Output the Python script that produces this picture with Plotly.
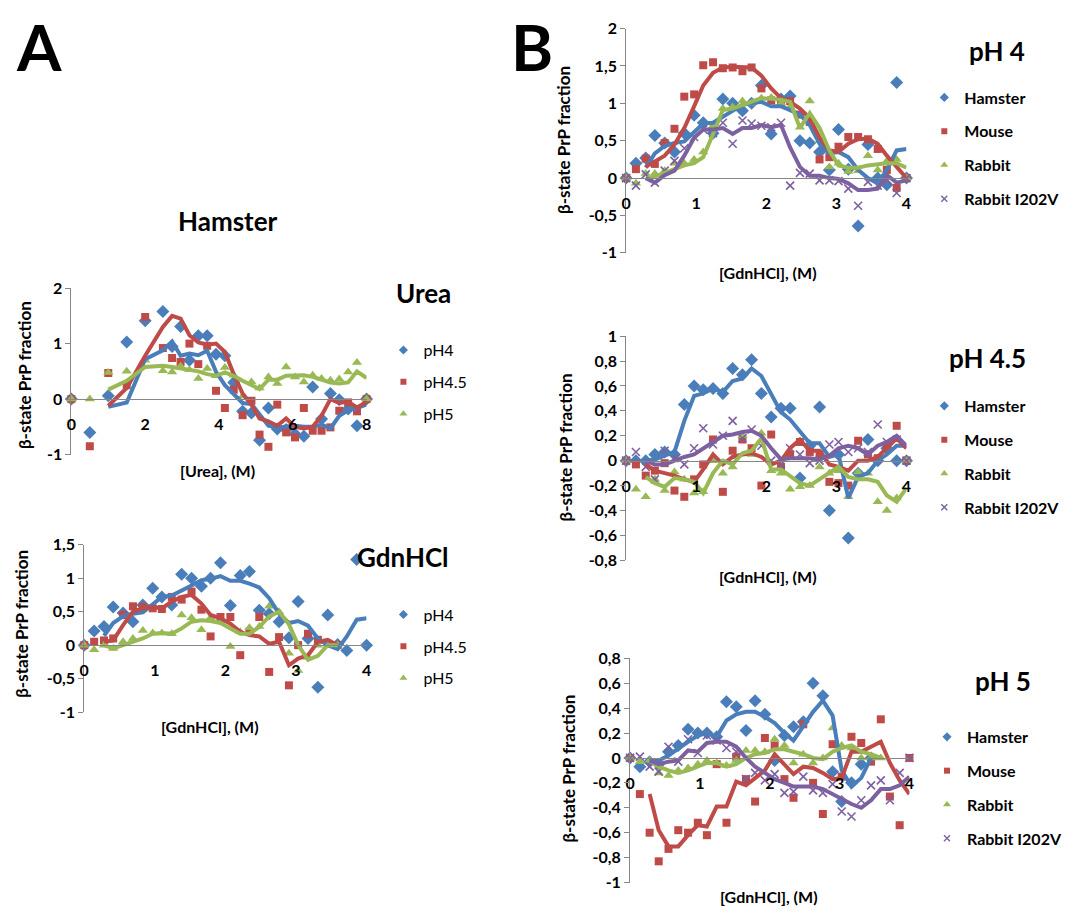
import plotly.graph_objects as go

W, H = 1067, 916

# ---------------- data ----------------
X_UREA = [0, 0.5, 1.0, 1.5, 2.0, 2.48, 2.73, 2.96, 3.2, 3.44, 3.68, 3.92, 4.16, 4.4, 4.64,
          4.88, 5.1, 5.34, 5.58, 5.82, 6.06, 6.3, 6.54, 6.78, 7.02, 7.26, 7.5, 7.74, 8.0]
U_PH4 = [0, -0.60, 0.06, 1.03, 1.41, 1.58, 0.95, 1.31, 0.70, 1.14, 1.14, 0.81, 0.78, 0.30, -0.22,
         -0.25, -0.74, -0.16, -0.54, -0.55, -0.63, -0.67, 0.22, -0.36, 0.10, -0.01, -0.18, -0.48, 0.00]
U_PH4_LINE = [None, None, -0.14, -0.06, 0.72, 0.88, 1.04, 0.78, 0.82, 0.79, 0.87, 0.49, 0.25, 0.10, -0.07,
              -0.09, -0.28, -0.48, -0.51, -0.50, -0.48, -0.50, -0.50, -0.46, -0.53, -0.30, -0.20, -0.16, -0.10]
U_PH45 = [0, -0.85, 0.47, 0.25, 1.48, 0.92, 0.74, 0.67, 1.00, 0.63, 0.96, 0.15, -0.16, 0.17, -0.29,
          -0.03, -0.64, -0.86, -0.10, -0.60, -0.69, -0.16, -0.57, -0.57, -0.51, -0.21, -0.06, -0.22, 0.00]
U_PH45_LINE = [None, None, -0.12, 0.20, 0.78, 1.30, 1.50, 1.45, 1.15, 1.02, 0.98, 1.00, 0.85, 0.45, 0.10,
               -0.10, -0.35, -0.40, -0.48, -0.35, -0.50, -0.53, -0.50, -0.30, 0.00, -0.07, -0.05, -0.15, -0.05]
U_PH5 = [0, 0.00, 0.48, 0.50, 0.70, 0.51, 0.49, 0.59, 0.53, 0.37, 0.55, 0.42, 0.57, 0.43, 0.05,
         0.31, 0.20, 0.40, 0.28, 0.58, 0.40, 0.31, 0.43, 0.37, 0.34, 0.36, 0.49, 0.66, 0.00]
U_PH5_LINE = [None, None, 0.17, 0.33, 0.58, 0.60, 0.58, 0.55, 0.53, 0.50, 0.45, 0.42, 0.48, 0.42, 0.33,
              0.25, 0.18, 0.35, 0.35, 0.42, 0.43, 0.43, 0.40, 0.35, 0.30, 0.28, 0.30, 0.50, 0.38]

X_GDN = [0, 0.14, 0.28, 0.41, 0.55, 0.69, 0.83, 0.97, 1.10, 1.24, 1.38, 1.52, 1.66, 1.79, 1.93,
         2.07, 2.21, 2.34, 2.48, 2.62, 2.76, 2.90, 3.03, 3.17, 3.31, 3.45, 3.59, 3.72, 3.86, 4.00]

G_PH4 = [0, 0.21, 0.28, 0.57, 0.48, 0.35, 0.60, 0.85, 0.72, 0.60, 1.06, 1.00, 0.88, 1.00, 1.23,
         0.59, 1.04, 1.10, 0.52, 0.47, 0.35, 0.11, 0.65, 0.10, -0.63, 0.45, 0.01, -0.08, 1.28, 0.00]
G_PH4_LINE = [None, None, 0.14, 0.33, 0.43, 0.47, 0.49, 0.60, 0.72, 0.74, 0.81, 0.89, 0.97, 0.99, 1.03,
              0.96, 0.96, 0.92, 0.86, 0.70, 0.47, 0.33, 0.36, 0.29, 0.10, 0.00, -0.06, 0.13, 0.38, 0.40]
G_PH45 = [0, 0.05, 0.07, 0.10, 0.45, 0.58, 0.57, 0.55, 0.54, 0.72, 0.68, 0.80, 0.53, 0.13, 0.42,
          0.42, -0.15, 0.20, 0.42, -0.40, 0.12, -0.60, 0.00, 0.17, 0.08, 0.02, 0.00, None, None, None]
G_PH45_LINE = [None, None, 0.05, 0.07, 0.30, 0.50, 0.55, 0.57, 0.55, 0.65, 0.72, 0.75, 0.62, 0.45, 0.40,
               0.32, 0.20, 0.15, 0.13, 0.02, 0.05, -0.30, -0.20, -0.15, 0.05, 0.08, 0.00, None, None, None]
G_PH5 = [0, -0.07, 0.00, -0.05, 0.05, 0.10, 0.22, 0.18, 0.18, 0.17, 0.45, 0.41, 0.23, 0.41, 0.35,
         -0.02, 0.20, 0.26, 0.28, 0.58, 0.50, -0.12, -0.38, -0.18, 0.00, 0.00, 0.00, None, None, None]
G_PH5_LINE = [None, None, 0.00, -0.05, 0.00, 0.05, 0.10, 0.17, 0.18, 0.17, 0.25, 0.35, 0.37, 0.36, 0.33,
              0.25, 0.17, 0.17, 0.27, 0.43, 0.50, 0.31, 0.00, -0.22, -0.16, 0.00, 0.00, None, None, None]

B4_HAMSTER = [0, 0.20, 0.27, 0.57, 0.47, 0.35, 0.60, 0.84, 0.74, 0.60, 1.06, 1.00, 0.90, 1.00, 1.24,
              0.59, 1.06, 1.10, 0.50, 0.47, 0.35, 0.11, 0.65, 0.12, -0.64, 0.45, 0.00, -0.09, 1.28, 0.00]
B4_HAMSTER_LINE = [None, None, 0.14, 0.33, 0.43, 0.47, 0.49, 0.61, 0.73, 0.74, 0.82, 0.90, 0.98, 1.00, 1.02,
                   0.96, 0.96, 0.91, 0.85, 0.71, 0.46, 0.33, 0.35, 0.28, 0.11, 0.00, -0.07, 0.11, 0.37, 0.39]
B4_MOUSE = [0, 0.12, 0.26, 0.19, 0.47, 0.66, 1.09, 1.12, 1.51, 1.55, 1.47, 1.48, 1.43, 1.48, 1.20,
            1.04, 1.00, 1.03, 0.85, 0.75, 0.25, 0.28, 0.42, 0.55, 0.55, 0.52, 0.39, 0.11, -0.13, 0.00]
B4_MOUSE_LINE = [None, None, 0.15, 0.22, 0.30, 0.45, 0.67, 0.96, 1.24, 1.41, 1.48, 1.49, 1.48, 1.48, 1.37,
                 1.20, 1.07, 1.02, 0.93, 0.80, 0.54, 0.37, 0.35, 0.46, 0.52, 0.53, 0.46, 0.30, 0.15, 0.00]
B4_RABBIT = [0, -0.07, 0.06, 0.06, 0.10, 0.20, 0.20, 0.25, 0.35, 0.70, 0.93, 0.95, 1.03, 1.00, 1.07,
             1.08, 1.00, 0.95, 0.68, 1.03, 0.50, 0.15, 0.20, 0.09, 0.10, 0.30, 0.11, 0.23, 0.25, 0.00]
B4_RABBIT_LINE = [None, None, 0.00, 0.02, 0.07, 0.12, 0.17, 0.20, 0.28, 0.59, 0.91, 0.93, 0.98, 1.02, 1.07,
                  1.06, 1.05, 1.02, 0.67, 0.87, 0.67, 0.37, 0.17, 0.14, 0.14, 0.17, 0.19, 0.20, 0.20, 0.14]
B4_I202V = [0, -0.10, 0.05, -0.06, 0.10, 0.23, 0.40, 0.55, 0.65, 0.60, 0.74, 0.46, 0.77, 0.73, 0.70,
            0.68, 0.74, -0.10, 0.07, 0.06, -0.03, -0.03, -0.04, -0.14, -0.37, -0.05, -0.10, -0.03, -0.20, 0.00]
B4_I202V_LINE = [None, None, 0.00, -0.06, 0.04, 0.10, 0.30, 0.54, 0.65, 0.65, 0.67, 0.59, 0.67, 0.67, 0.71,
                 0.68, 0.71, 0.41, 0.15, 0.03, 0.03, 0.00, -0.01, -0.07, -0.16, -0.16, -0.14, 0.04, -0.06, -0.03]

B45_HAMSTER = [0, 0.00, 0.00, 0.05, 0.07, 0.05, 0.45, 0.60, 0.57, 0.58, 0.54, 0.74, 0.69, 0.81, 0.54,
               0.35, 0.42, 0.42, -0.14, 0.12, 0.43, -0.40, 0.05, -0.62, -0.10, 0.17, 0.00, 0.10, 0.00, 0.00]
B45_HAMSTER_LINE = [None, None, 0.00, 0.01, 0.04, 0.07, 0.32, 0.52, 0.54, 0.58, 0.55, 0.64, 0.66, 0.74, 0.68,
                    0.54, 0.39, 0.33, 0.24, 0.14, 0.14, 0.03, 0.05, -0.30, -0.13, -0.10, 0.00, 0.05, 0.12, 0.12]
B45_MOUSE = [0, -0.03, -0.12, -0.08, -0.02, -0.24, -0.29, -0.15, -0.03, 0.17, -0.25, 0.08, 0.17, 0.10, -0.20,
             0.21, -0.05, 0.05, 0.15, 0.07, 0.05, -0.17, -0.18, -0.20, 0.16, 0.05, 0.02, 0.12, 0.28, 0.00]
B45_MOUSE_LINE = [None, None, -0.03, -0.08, -0.10, -0.12, -0.15, -0.17, -0.07, 0.05, -0.03, 0.03, 0.05, 0.06, 0.03,
                  -0.03, 0.00, 0.10, 0.17, 0.08, 0.08, -0.03, -0.05, -0.08, 0.00, 0.00, 0.03, 0.10, 0.18, 0.10]
B45_RABBIT = [0, -0.23, -0.29, -0.15, -0.24, -0.09, -0.15, -0.26, -0.25, 0.00, -0.10, -0.05, 0.20, 0.05, 0.22,
              -0.08, -0.10, -0.23, -0.21, -0.20, -0.05, -0.10, -0.08, -0.29, -0.09, -0.10, -0.33, -0.40, -0.30, 0.00]
B45_RABBIT_LINE = [None, None, -0.13, -0.18, -0.21, -0.14, -0.15, -0.17, -0.26, -0.10, 0.00, -0.03, 0.06, 0.08, 0.18,
                   -0.07, -0.07, -0.12, -0.18, -0.20, -0.15, -0.10, -0.05, -0.13, -0.15, -0.15, -0.17, -0.28, -0.33, -0.22]
B45_I202V = [0, 0.07, -0.05, -0.15, 0.08, 0.02, -0.03, 0.10, 0.26, 0.13, 0.20, 0.32, 0.18, 0.25, 0.12,
             0.00, -0.03, 0.10, 0.05, -0.02, 0.00, 0.13, 0.15, 0.07, 0.10, 0.07, 0.29, 0.15, 0.17, 0.00]
B45_I202V_LINE = [None, None, 0.00, -0.03, -0.03, 0.00, 0.03, 0.05, 0.10, 0.15, 0.20, 0.21, 0.23, 0.24, 0.20,
                  0.10, 0.01, 0.02, 0.02, 0.02, 0.01, 0.04, 0.10, 0.12, 0.10, 0.05, 0.12, 0.15, 0.20, 0.12]

B5_HAMSTER = [0, -0.07, -0.03, -0.05, 0.05, 0.10, 0.23, 0.20, 0.20, 0.17, 0.45, 0.41, 0.22, 0.46, 0.35,
              -0.02, 0.18, 0.25, 0.29, 0.60, 0.50, -0.11, -0.35, -0.20, -0.05, 0.00, None, None, None, None]
B5_HAMSTER_LINE = [None, None, -0.02, -0.02, 0.02, 0.08, 0.13, 0.18, 0.20, 0.17, 0.30, 0.35, 0.37, 0.37, 0.33,
                   0.28, 0.20, 0.14, 0.26, 0.37, 0.46, 0.34, -0.10, -0.23, -0.16, 0.00, None, None, None, None]
B5_MOUSE = [0, -0.29, -0.60, -0.83, -0.73, -0.58, -0.60, -0.52, -0.62, -0.05, -0.52, 0.01, -0.17, -0.35, 0.16,
            0.10, -0.17, -0.32, 0.27, -0.20, -0.45, 0.11, -0.15, 0.17, 0.12, -0.03, 0.31, -0.31, -0.54, 0.00]
B5_MOUSE_LINE = [None, None, -0.29, -0.58, -0.71, -0.71, -0.62, -0.54, -0.55, -0.39, -0.39, -0.19, -0.22, -0.16, -0.10,
                 0.03, -0.05, -0.13, -0.07, -0.08, -0.12, -0.17, -0.16, 0.05, 0.05, 0.09, 0.13, -0.04, -0.18, -0.29]
B5_RABBIT = [0, -0.03, -0.02, -0.12, -0.14, -0.10, -0.08, -0.05, -0.02, -0.04, -0.06, -0.02, 0.06, 0.06, 0.05,
             0.15, 0.10, -0.04, 0.03, -0.04, 0.00, 0.24, 0.10, 0.08, 0.00, 0.00, 0.00, None, None, None]
B5_RABBIT_LINE = [None, None, -0.02, -0.07, -0.10, -0.12, -0.10, -0.07, -0.04, -0.04, -0.07, -0.05, 0.00, 0.03, 0.04,
                  0.07, 0.07, 0.05, 0.03, 0.00, -0.01, 0.05, 0.08, 0.10, 0.05, 0.03, 0.00, None, None, None]
B5_I202V = [0, 0.01, -0.07, -0.11, 0.09, -0.03, 0.15, 0.04, 0.18, 0.14, 0.08, 0.05, -0.17, -0.12, -0.18,
            -0.13, -0.28, -0.27, -0.15, -0.26, -0.28, -0.21, -0.43, -0.47, -0.34, -0.22, -0.18, -0.34, -0.12, 0.00]
B5_I202V_LINE = [None, None, -0.02, -0.05, -0.03, -0.02, 0.06, 0.05, 0.12, 0.13, 0.13, 0.09, 0.00, -0.07, -0.12,
                 -0.17, -0.20, -0.23, -0.23, -0.23, -0.25, -0.29, -0.33, -0.37, -0.40, -0.34, -0.25, -0.25, -0.22, -0.15]

PH_NAMES = ["pH4", "pH4.5", "pH5"]
SPECIES = ["Hamster", "Mouse", "Rabbit", "Rabbit I202V"]

YT_A1 = [-1, 0, 1, 2]
YT_A1_TXT = ["-1", "0", "1", "2"]
YT_A2 = [-1, -0.5, 0, 0.5, 1, 1.5]
YT_A2_TXT = ["-1", "-0,5", "0", "0,5", "1", "1,5"]
YT_B1 = [-1, -0.5, 0, 0.5, 1, 1.5, 2]
YT_B1_TXT = ["-1", "-0,5", "0", "0,5", "1", "1,5", "2"]
YT_B2 = [-0.8, -0.6, -0.4, -0.2, 0, 0.2, 0.4, 0.6, 0.8, 1]
YT_B2_TXT = ["-0,8", "-0,6", "-0,4", "-0,2", "0", "0,2", "0,4", "0,6", "0,8", "1"]
YT_B3 = [-1, -0.8, -0.6, -0.4, -0.2, 0, 0.2, 0.4, 0.6, 0.8]
YT_B3_TXT = ["-1", "-0,8", "-0,6", "-0,4", "-0,2", "0", "0,2", "0,4", "0,6", "0,8"]
XT_UREA = [0, 2, 4, 6, 8]
XT_GDN = [0, 1, 2, 3, 4]

# ---------------- styles ----------------
COLORS = ["#4A7EBB", "#BE4B48", "#98B954", "#7D60A0"]
MARKERS = [dict(symbol="diamond", size=10), dict(symbol="square", size=8),
           dict(symbol="triangle-up", size=9), dict(symbol="x-thin", size=8)]
LEG_MARKERS = [dict(symbol="diamond", size=7), dict(symbol="square", size=6),
               dict(symbol="triangle-up", size=7), dict(symbol="x-thin", size=6)]
FONT = "Lato, 'Open Sans', sans-serif"
AXIS_GREY = "#868686"


def fx(px):
    return px / W


def fy(py):
    return 1 - py / H


panels = [
    dict(dom=(67, 365, 284, 454), xr=[0, 8], yr=[-1, 2], xt=XT_UREA, yt=YT_A1, ytt=YT_A1_TXT),
    dict(dom=(80, 365, 546, 717), xr=[0, 4], yr=[-1, 1.5], xt=XT_GDN, yt=YT_A2, ytt=YT_A2_TXT),
    dict(dom=(627, 910, 19, 248), xr=[0, 4], yr=[-1, 2], xt=XT_GDN, yt=YT_B1, ytt=YT_B1_TXT),
    dict(dom=(627, 910, 333, 562), xr=[0, 4], yr=[-0.8, 1], xt=XT_GDN, yt=YT_B2, ytt=YT_B2_TXT),
    dict(dom=(631, 913, 662, 891), xr=[0, 4], yr=[-1, 0.8], xt=XT_GDN, yt=YT_B3, ytt=YT_B3_TXT),
]

series = [
    (X_UREA, [(U_PH4, U_PH4_LINE), (U_PH45, U_PH45_LINE), (U_PH5, U_PH5_LINE)], PH_NAMES),
    (X_GDN, [(G_PH4, G_PH4_LINE), (G_PH45, G_PH45_LINE), (G_PH5, G_PH5_LINE)], PH_NAMES),
    (X_GDN, [(B4_HAMSTER, B4_HAMSTER_LINE), (B4_MOUSE, B4_MOUSE_LINE),
             (B4_RABBIT, B4_RABBIT_LINE), (B4_I202V, B4_I202V_LINE)], SPECIES),
    (X_GDN, [(B45_HAMSTER, B45_HAMSTER_LINE), (B45_MOUSE, B45_MOUSE_LINE),
             (B45_RABBIT, B45_RABBIT_LINE), (B45_I202V, B45_I202V_LINE)], SPECIES),
    (X_GDN, [(B5_HAMSTER, B5_HAMSTER_LINE), (B5_MOUSE, B5_MOUSE_LINE),
             (B5_RABBIT, B5_RABBIT_LINE), (B5_I202V, B5_I202V_LINE)], SPECIES),
]

fig = go.Figure()
layout = dict(width=W, height=H, margin=dict(l=0, r=0, t=0, b=0),
              paper_bgcolor="white", plot_bgcolor="white",
              font=dict(family=FONT, color="black"), showlegend=True)

# legends: (legend left x px, top y px, bold, group gap)
legend_pos = [(382, 330, False, 8), (382, 600, False, 8), (928, 72, True, 10),
              (928, 387, True, 10), (931, 725, True, 10)]

TICKFONT = dict(family=FONT, size=16, color="black", weight=700)

for i, p in enumerate(panels):
    n = "" if i == 0 else str(i + 1)
    x0, x1, y0, y1 = p["dom"]
    ymin, ymax = p["yr"]
    d0, d1 = fy(y1), fy(y0)
    zero_pos = d0 + (0 - ymin) / (ymax - ymin) * (d1 - d0)
    layout["xaxis" + n] = dict(domain=[fx(x0), fx(x1)], range=p["xr"], anchor="free", position=zero_pos,
                               showline=True, linecolor=AXIS_GREY, linewidth=1, showgrid=False, zeroline=False,
                               tickvals=p["xt"], ticks="", ticklabelstandoff=11,
                               tickfont=TICKFONT, fixedrange=True)
    layout["yaxis" + n] = dict(domain=[d0, d1], range=p["yr"], anchor="x" + n,
                               showline=True, linecolor=AXIS_GREY, linewidth=1, showgrid=False, zeroline=False,
                               tickvals=p["yt"], ticktext=p["ytt"], ticks="outside", ticklen=5,
                               tickcolor=AXIS_GREY, tickfont=TICKFONT, fixedrange=True)
    lx, ly, bold, gap = legend_pos[i]
    lname = "legend" if i == 0 else "legend" + str(i + 1)
    layout[lname] = dict(x=fx(lx), y=fy(ly), xanchor="left", yanchor="top",
                         bgcolor="rgba(0,0,0,0)", tracegroupgap=gap, itemwidth=30,
                         font=dict(family=FONT, size=16, color="black",
                                   weight=700 if bold else 400))

    xs, data, names = series[i]
    for k, (pts, _) in enumerate(data):
        m = dict(MARKERS[k], color=COLORS[k])
        if m["symbol"] == "x-thin":
            m["line"] = dict(color=COLORS[k], width=1.6)
        fig.add_trace(go.Scatter(x=xs, y=pts, mode="markers", marker=m, name=names[k],
                                 xaxis="x" + n, yaxis="y" + n, cliponaxis=False,
                                 legendgroup=f"p{i}s{k}", showlegend=False))
    for k, (_, ln) in enumerate(data):
        fig.add_trace(go.Scatter(x=xs, y=ln, mode="lines", line=dict(color=COLORS[k], width=4),
                                 xaxis="x" + n, yaxis="y" + n, cliponaxis=False,
                                 showlegend=False, hoverinfo="skip"))
    # legend entries (smaller symbols, like the original legend keys)
    for k in range(len(data)):
        m = dict(LEG_MARKERS[k], color=COLORS[k])
        if m["symbol"] == "x-thin":
            m["line"] = dict(color=COLORS[k], width=1.4)
        fig.add_trace(go.Scatter(x=[None], y=[None], mode="markers", marker=m, name=names[k],
                                 xaxis="x" + n, yaxis="y" + n, legend=lname,
                                 legendgroup=f"p{i}s{k}", showlegend=True))

ann = []


def text(x, y, s, size, weight=700, angle=0):
    ann.append(dict(x=fx(x), y=fy(y), xref="paper", yref="paper", text=s, showarrow=False,
                    xanchor="center", yanchor="middle", textangle=angle,
                    font=dict(family=FONT, size=size, color="black", weight=weight)))


text(34, 37, "A", 64)
text(532, 37, "B", 64)
text(225, 215, "Hamster", 26)
text(422, 289, "Urea", 26)
text(402, 559, "GdnHCl", 26)
text(1001, 42, "pH 4", 26)
text(992, 355, "pH 4.5", 26)
text(1007, 685, "pH 5", 26)

text(215, 470, "[Urea], (M)", 16)
text(207, 732, "[GdnHCl], (M)", 16)
text(770, 268, "[GdnHCl], (M)", 16)
text(770, 578, "[GdnHCl], (M)", 16)
text(771, 905, "[GdnHCl], (M)", 16)

for (x, y) in [(19, 373), (17, 627), (564, 133), (566, 447), (569, 775)]:
    text(x, y, "β-state PrP fraction", 17, angle=-90)

layout["annotations"] = ann
fig.update_layout(**layout)
fig.write_html("out.html")
